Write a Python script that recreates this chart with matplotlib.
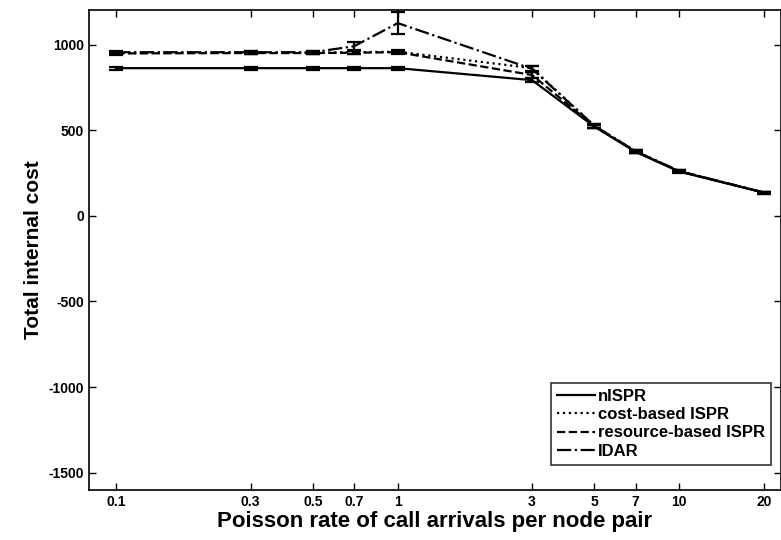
import matplotlib
matplotlib.use("Agg")
import matplotlib.pyplot as plt
from matplotlib.ticker import FixedLocator, FixedFormatter, NullLocator

# -----------------------------
# Data
# -----------------------------
rates = [0.1, 0.3, 0.5, 0.7, 1, 3, 5, 7, 10, 20]
rate_labels = ["0.1", "0.3", "0.5", "0.7", "1", "3", "5", "7", "10", "20"]

nispr = [862, 862, 862, 862, 862, 792, 520, 373, 258, 135]
cost_ispr = [950, 952, 952, 955, 958, 862, 525, 377, 261, 136]
resource_ispr = [948, 950, 950, 952, 955, 822, 522, 375, 260, 135]
idar = [955, 955, 955, 990, 1125, 858, 525, 377, 261, 136]

nispr_err = [8, 8, 8, 8, 8, 10, 10, 8, 6, 5]
cost_err = [8, 8, 8, 8, 8, 15, 10, 8, 6, 5]
resource_err = [8, 8, 8, 8, 8, 15, 10, 8, 6, 5]
idar_err = [8, 8, 8, 22, 62, 18, 10, 8, 6, 5]

yticks = [1000, 500, 0, -500, -1000, -1500]
ytick_labels = ["1000", "500", "0", "-500", "-1000", "-1500"]

plt.rcParams["font.family"] = ["Liberation Sans", "DejaVu Sans"]
plt.rcParams["font.weight"] = "bold"

fig = plt.figure(figsize=(7.81, 5.4), dpi=100)
ax = fig.add_axes([0.114, 0.093, 0.886, 0.888])

series = [
    (nispr, nispr_err, "-", "nISPR"),
    (cost_ispr, cost_err, ":", "cost-based ISPR"),
    (resource_ispr, resource_err, "--", "resource-based ISPR"),
    (idar, idar_err, "-.", "IDAR"),
]

handles = []
names = []
for vals, err, ls, name in series:
    cont = ax.errorbar(
        rates, vals, yerr=err,
        color="black", linestyle=ls, linewidth=1.6,
        capsize=5, capthick=1.6, elinewidth=1.6
    )
    handles.append(cont[0])
    names.append(name)

ax.set_xscale("log")
ax.set_xlim(0.08, 23)
ax.set_ylim(-1600, 1200)

ax.xaxis.set_major_locator(FixedLocator(rates))
ax.xaxis.set_major_formatter(FixedFormatter(rate_labels))
ax.xaxis.set_minor_locator(NullLocator())
ax.set_yticks(yticks)
ax.set_yticklabels(ytick_labels)

ax.tick_params(direction="in", top=True, right=True, length=5, width=1,
               labelsize=10)
for lab in ax.get_xticklabels() + ax.get_yticklabels():
    lab.set_fontweight("bold")

ax.set_xlabel("Poisson rate of call arrivals per node pair",
              fontsize=16, fontweight="bold", labelpad=2)
ax.set_ylabel("Total internal cost", fontsize=15, fontweight="bold")

for sp in ax.spines.values():
    sp.set_linewidth(1.2)

leg = ax.legend(handles, names, loc="lower right", fontsize=12,
                frameon=True, fancybox=False, edgecolor="black",
                handlelength=2.3, handletextpad=0.15,
                labelspacing=0.2, borderpad=0.35,
                bbox_to_anchor=(0.997, 0.035))
leg.get_frame().set_linewidth(1.2)
for t in leg.get_texts():
    t.set_fontweight("bold")

fig.savefig("out.png", dpi=100)
